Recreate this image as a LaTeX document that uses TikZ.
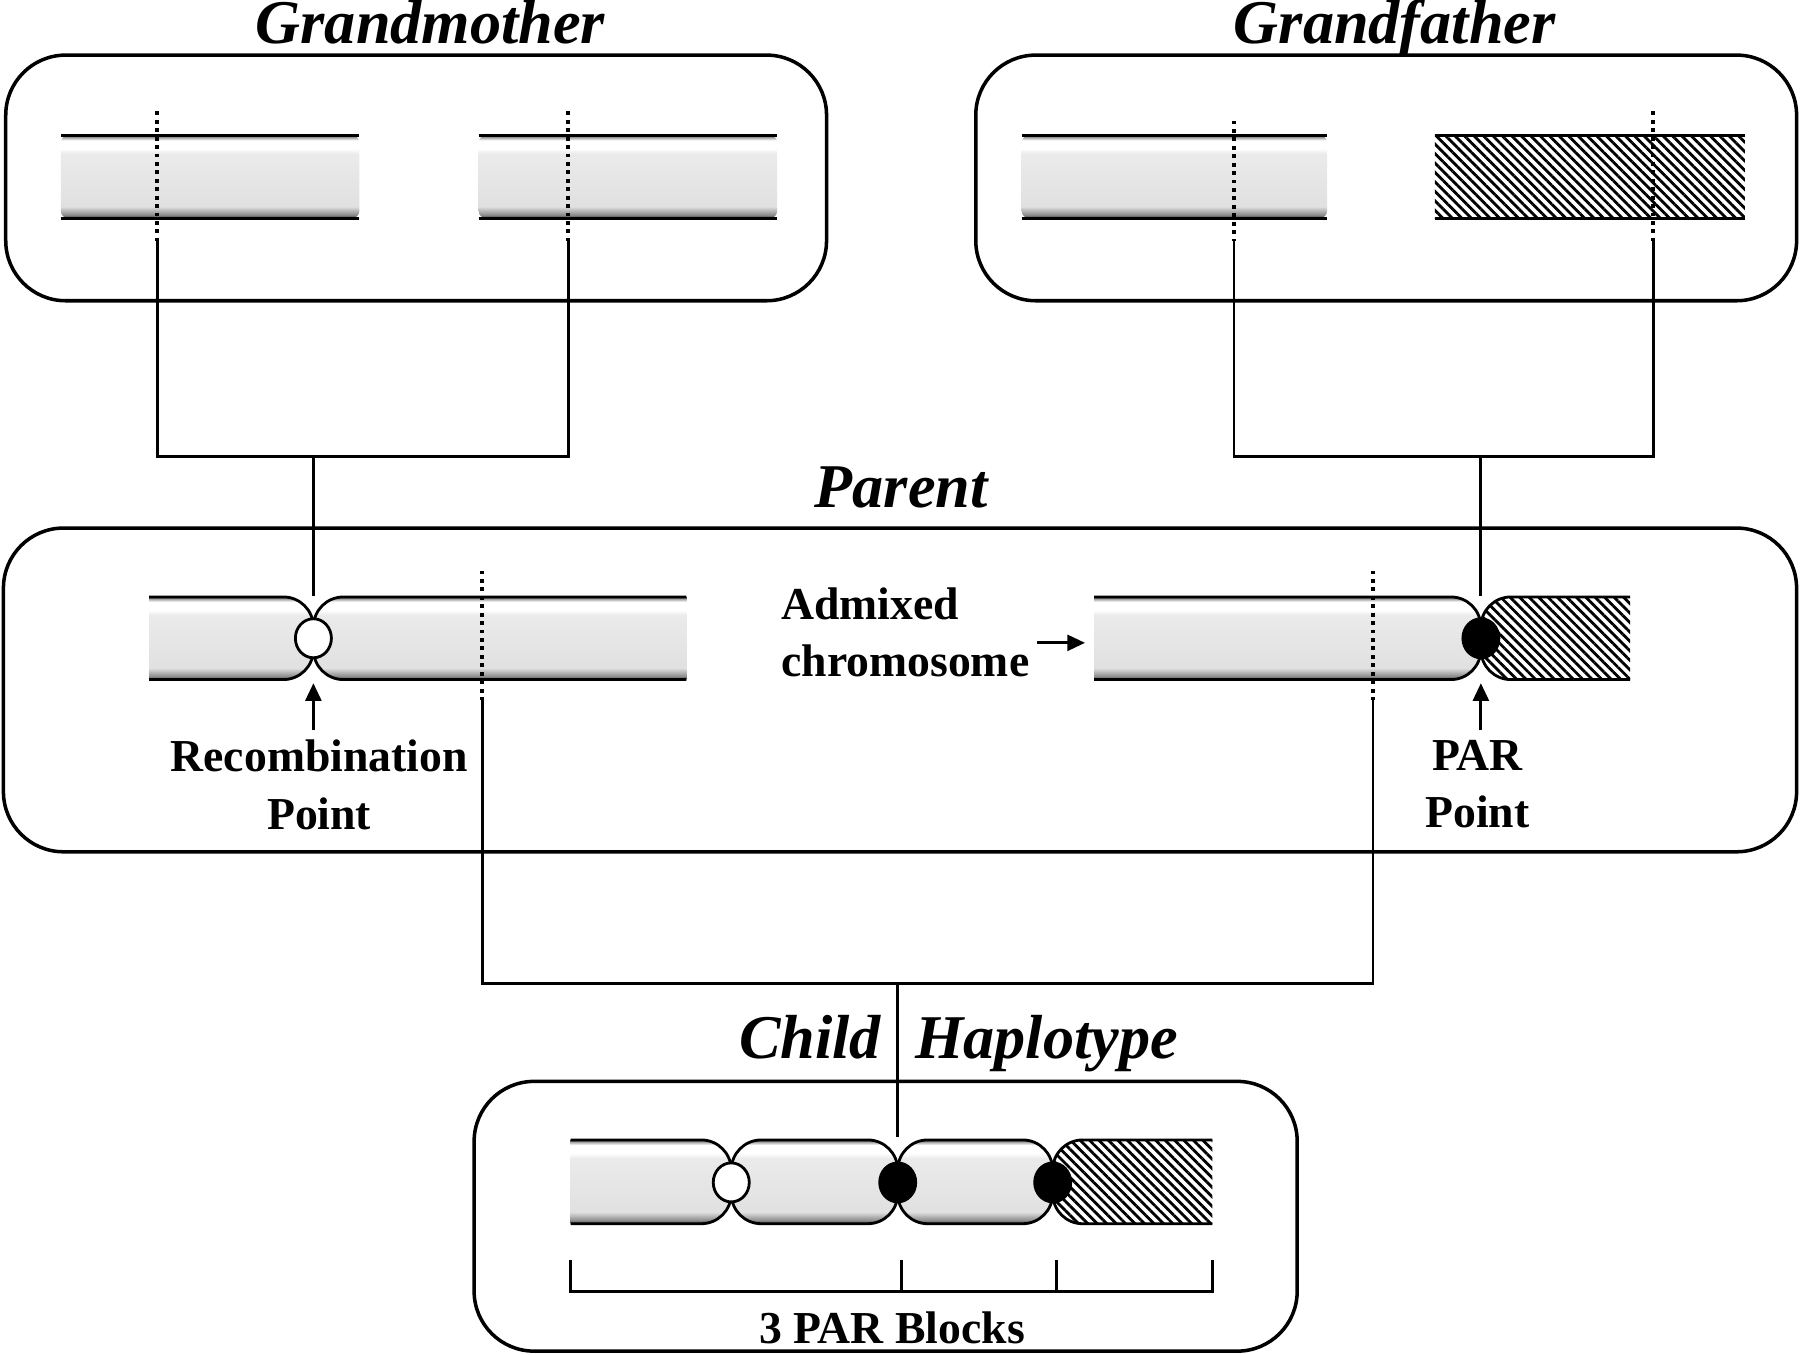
\documentclass[tikz,border=0pt]{standalone}
\usepackage{fontspec}
\setmainfont{Liberation Serif}
\usepackage{tikz}
\usetikzlibrary{arrows.meta, shapes, patterns.meta}
\pgfdeclareverticalshading{chromoshade}{100bp}{color(0bp)=(black!75); color(25bp)=(black!75); color(27bp)=(black!45); color(32bp)=(black!12); color(64bp)=(black!8); color(67bp)=(white); color(72bp)=(white); color(74bp)=(black!40); color(75bp)=(black!75); color(100bp)=(black!75)}
\tikzset{
  famBox/.style={draw=black,line width=1pt,rounded corners=0.6cm},
  famTitle/.style={font=\fontsize{17.7}{20}\selectfont\bfseries\itshape,inner sep=0pt,anchor=base},
  noteText/.style={font=\fontsize{13}{16.3}\selectfont\bfseries,inner sep=0pt,align=center},
  chromSeg/.style={draw=black,line width=0.8pt,shading=chromoshade,rounded corners=0.3cm},
  hatchSeg/.style={fill=white,rounded corners=0.3cm,
    postaction={pattern={Lines[angle=-45,distance=1.9pt,line width=0.8pt]}},
    postaction={draw=black,line width=0.8pt}},
  chromEdge/.style={line width=0.9pt,black},
  openPt/.style={ellipse,draw=black,line width=0.8pt,fill=white,minimum width=0.36cm,minimum height=0.39cm,inner sep=0pt},
  parPt/.style={openPt,fill=black},
  dotLine/.style={line width=1.1pt,dash pattern=on 1.1pt off 1.3pt},
  tree/.style={line width=0.8pt},
  ptArrow/.style={-{Triangle[length=5pt,width=4.5pt]},line width=0.8pt},
}
\begin{document}
\begin{tikzpicture}[x=0.01148cm,y=-0.01148cm]
  \useasboundingbox (0,0) rectangle (1568,1180);
  % family boxes
  \draw[famBox] (5,48) rectangle (720,262);
  \draw[famBox] (850,48) rectangle (1565,262);
  \draw[famBox] (3,460) rectangle (1565,742);
  \draw[famBox] (413,942) rectangle (1130,1177);
  \node[famTitle] (tGM) at (375,38) {Grandmother};
  \node[famTitle] (tGF) at (1215,38) {Grandfather};
  \node[famTitle] (tPar) at (785,442) {Parent};
  \node[famTitle] (tKid) at (835,922) {Child\hspace{0.55em}Haplotype};
  % grandparent chromosomes
  \shade[shading=chromoshade,rounded corners=2pt] (53,118) rectangle (313,190);
  \draw[chromEdge] (53,118) -- (313,118) (53,190) -- (313,190);
  \shade[shading=chromoshade,rounded corners=2pt] (417,118) rectangle (677,190);
  \draw[chromEdge] (417,118) -- (677,118) (417,190) -- (677,190);
  \shade[shading=chromoshade,rounded corners=2pt] (890,118) rectangle (1156,190);
  \draw[chromEdge] (890,118) -- (1156,118) (890,190) -- (1156,190);
  \path[fill=white,postaction={pattern={Lines[angle=-45,distance=1.9pt,line width=0.8pt]}}] (1250,118) rectangle (1520,190);
  \draw[chromEdge] (1250,118) -- (1520,118) (1250,190) -- (1520,190);
  % parent chromosomes
  \begin{scope}
    \clip (130,500) rectangle (598,615);
    \shadedraw[chromSeg] (90,520) rectangle (273,592);
    \shadedraw[chromSeg] (273,520) rectangle (640,592);
  \end{scope}
  \begin{scope}
    \clip (953,500) rectangle (1420,615);
    \shadedraw[chromSeg] (910,520) rectangle (1290,592);
    \path[hatchSeg] (1290,520) rectangle (1460,592);
  \end{scope}
  \node[openPt] (cRecomb) at (273,556) {};
  \node[parPt] (cPAR) at (1290,556) {};
  % child haplotype
  \begin{scope}
    \clip (497,980) rectangle (1056,1080);
    \shadedraw[chromSeg] (460,993) rectangle (637,1066);
    \shadedraw[chromSeg] (637,993) rectangle (782,1066);
    \shadedraw[chromSeg] (782,993) rectangle (917,1066);
    \path[hatchSeg] (917,993) rectangle (1095,1066);
  \end{scope}
  \node[openPt] (cKid1) at (637,1030) {};
  \node[parPt] (cKid2) at (782,1030) {};
  \node[parPt] (cKid3) at (917,1030) {};
  % inheritance lines
  \coordinate (gmAtop) at (137,97);   \coordinate (gmAbot) at (137,210);
  \coordinate (gmBtop) at (495,97);   \coordinate (gmBbot) at (495,210);
  \coordinate (gmJoin) at (273,398);
  \coordinate (gfAtop) at (1075,105); \coordinate (gfAbot) at (1075,210);
  \coordinate (gfBtop) at (1440,97);  \coordinate (gfBbot) at (1440,210);
  \coordinate (gfJoin) at (1290,398);
  \coordinate (pAtop) at (420,497);   \coordinate (pAbot) at (420,610);
  \coordinate (pBtop) at (1196,497);  \coordinate (pBbot) at (1196,610);
  \coordinate (pJoin) at (782,857);
  \draw[dotLine] (gmAtop) -- (gmAbot) (gmBtop) -- (gmBbot);
  \draw[dotLine] (gfAtop) -- (gfAbot) (gfBtop) -- (gfBbot);
  \draw[dotLine] (pAtop) -- (pAbot) (pBtop) -- (pBbot);
  \draw[tree] (gmAbot) |- (gmJoin) -| (gmBbot);
  \draw[tree] (gfAbot) |- (gfJoin) -| (gfBbot);
  \draw[tree] (pAbot) |- (pJoin) -| (pBbot);
  \draw[tree,shorten >=0.21cm] (gmJoin) -- (cRecomb.north);
  \draw[tree,shorten >=0.21cm] (gfJoin) -- (cPAR.north);
  \draw[tree,shorten >=0.24cm] (pJoin) -- (cKid2.north);
  % labels
  \node[noteText,anchor=north] (lRecomb) at (278,644) {Recombination\\Point};
  \node[noteText,anchor=north] (lPAR) at (1287,644) {PAR\\Point};
  \node[noteText,anchor=north west,align=left] (lAdmix) at (680,511) {Admixed\\chromosome};
  \coordinate (pRleft) at (953,560);
  \draw[ptArrow,shorten <=0.09cm,shorten >=0.24cm] (lRecomb.north -| cRecomb) -- (cRecomb.south);
  \draw[ptArrow,shorten <=0.09cm,shorten >=0.24cm] (lPAR.north -| cPAR) -- (cPAR.south);
  \draw[ptArrow,shorten <=0.07cm,shorten >=0.09cm] (lAdmix.east |- pRleft) -- (pRleft);
  % PAR blocks
  \coordinate (bkL) at (497,1125); \coordinate (bkR) at (1056,1125);
  \draw[tree] (bkL |- 0,1098) -- (bkL) -- (bkR) -- (bkR |- 0,1098);
  \foreach \bx in {785,920}
    \draw[tree] (\bx,1098) -- (\bx,1125);
  \node[noteText,anchor=base] (lBlocks) at (777,1170) {3 PAR Blocks};
\end{tikzpicture}
\end{document}
